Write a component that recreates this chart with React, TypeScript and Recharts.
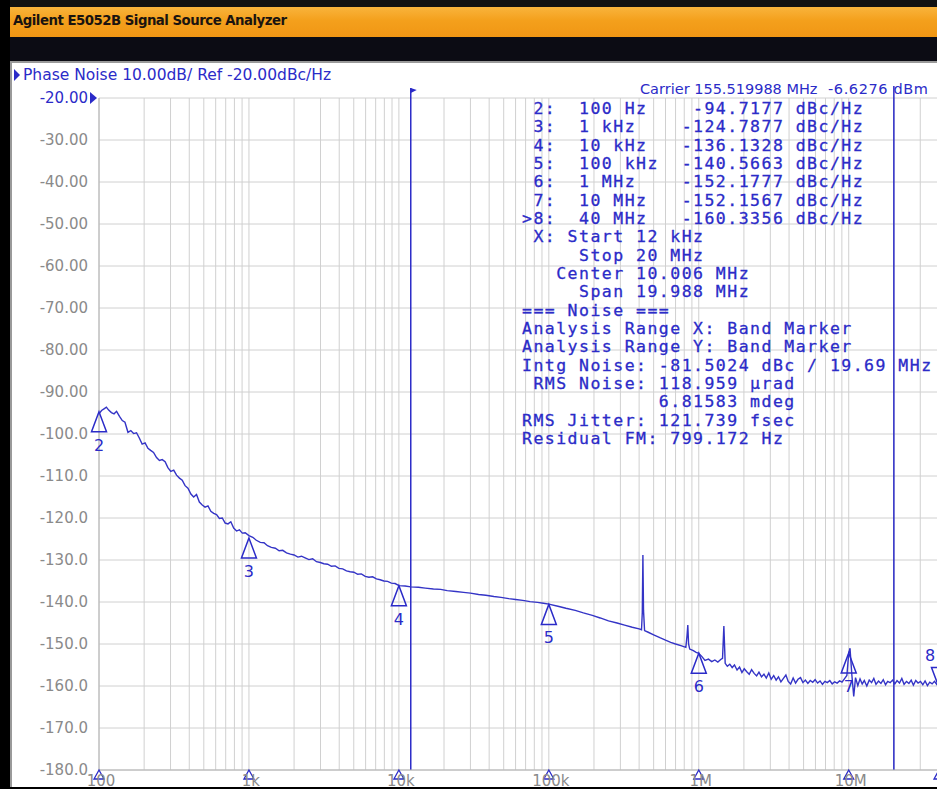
import {
  ComposedChart,
  Line,
  XAxis,
  YAxis,
  CartesianGrid,
  ReferenceLine,
  ReferenceDot,
} from "recharts";

const BLUE = "#2b2bc8";
const TRACE = "#3434c6";
const GRAY_TEXT = "#8a8a8a";
const GRID = "#d0d0d0";

// phase noise trace, one pair of arrays per decade
const dec1Hz = [100, 104, 108, 112, 116, 121, 126, 131, 137, 143, 149, 156, 163, 170, 178, 186, 194, 203, 212, 221, 231, 242, 253, 264, 276, 288, 301, 315, 329, 344, 359, 375, 392, 410, 428, 447, 467, 488, 510, 533, 557, 582, 608, 635, 664, 694, 725, 757, 791, 827, 864, 903, 944];
const dec1Dbc = [-95.2, -94.4, -94.0, -93.6, -94.3, -94.9, -95.2, -94.6, -95.8, -96.8, -97.2, -99.6, -99.2, -99.9, -99.7, -101.0, -102.4, -102.1, -103.4, -103.9, -104.4, -105.6, -106.3, -106.1, -106.6, -108.0, -108.9, -108.6, -109.8, -110.5, -111.0, -112.3, -112.9, -114.3, -115.0, -114.4, -116.2, -116.9, -117.4, -117.1, -118.4, -118.9, -119.2, -120.1, -120.0, -121.2, -121.4, -120.9, -122.4, -123.1, -122.8, -123.6, -123.5];

const dec2Hz = [1000, 1060, 1120, 1190, 1260, 1330, 1410, 1500, 1590, 1680, 1780, 1890, 2000, 2120, 2240, 2370, 2510, 2660, 2820, 2990, 3160, 3350, 3550, 3760, 3980, 4220, 4470, 4730, 5010, 5310, 5620, 5960, 6310, 6680, 7080, 7500, 7940, 8410, 8910, 9440];
const dec2Dbc = [-124.2, -124.6, -125.3, -125.8, -125.9, -126.6, -127.0, -127.2, -127.8, -127.7, -128.3, -128.6, -128.8, -129.3, -129.1, -129.5, -129.9, -129.7, -130.4, -130.6, -130.9, -131.0, -131.5, -131.4, -132.0, -132.1, -132.6, -132.8, -132.9, -133.4, -133.3, -133.9, -134.1, -134.0, -134.5, -134.7, -135.0, -135.1, -135.5, -135.6];

const dec3Hz = [10000, 11000, 12000, 13500, 15000, 17000, 19000, 21000, 24000, 27000, 30000, 34000, 38000, 43000, 48000, 54000, 60000, 67000, 75000, 84000, 92000];
const dec3Dbc = [-136.1, -136.2, -136.4, -136.5, -136.7, -136.9, -137.0, -137.3, -137.5, -137.7, -137.9, -138.2, -138.4, -138.7, -138.9, -139.2, -139.4, -139.6, -139.9, -140.1, -140.3];

const dec4Hz = [100000, 115000, 130000, 150000, 170000, 195000, 220000, 250000, 285000, 320000, 360000, 400000, 415000, 420000, 424000, 428000, 435000, 460000, 500000, 550000, 600000, 650000, 700000, 760000, 820000, 835000, 845000, 855000, 870000, 920000, 960000];
const dec4Dbc = [-140.5, -141.0, -141.5, -142.0, -142.6, -143.2, -143.8, -144.5, -145.0, -145.5, -146.0, -146.4, -146.6, -142.5, -128.8, -142.0, -146.8, -147.2, -147.8, -148.5, -149.1, -149.6, -150.0, -150.4, -150.8, -148.0, -145.5, -150.0, -151.2, -151.6, -152.0];

const dec5Hz = [1000000, 1050000, 1100000, 1160000, 1220000, 1280000, 1340000, 1400000, 1440000, 1470000, 1500000, 1550000, 1610000, 1670000, 1730000, 1800000, 1870000, 1940000, 2010000, 2090000, 2170000, 2250000, 2340000, 2430000, 2520000, 2620000, 2720000, 2820000, 2930000, 3040000, 3160000, 3280000, 3400000, 3530000, 3670000, 3810000, 3950000, 4100000, 4260000, 4420000, 4590000, 4770000, 4950000, 5140000, 5340000, 5540000, 5750000, 5970000, 6200000, 6440000, 6680000, 6940000, 7200000, 7480000, 7760000, 8060000, 8370000, 8690000, 9020000, 9360000, 9720000];
const dec5Dbc = [-152.2, -153.0, -153.9, -153.6, -154.2, -153.8, -154.3, -153.7, -153.4, -145.7, -154.6, -155.3, -154.8, -155.6, -155.0, -156.2, -155.5, -156.8, -155.9, -156.6, -157.2, -156.1, -157.0, -157.6, -156.7, -157.8, -157.2, -158.1, -156.9, -158.4, -157.5, -158.6, -157.8, -159.0, -158.2, -157.4, -158.9, -159.5, -158.1, -159.3, -158.4, -158.0, -159.2, -158.6, -159.4, -158.7, -159.1, -158.5, -159.3, -158.8, -159.6, -158.9, -159.2, -158.7, -159.5, -159.0, -159.3, -158.8, -159.1, -158.3, -157.5];

const dec6Hz = [10000000, 10200000, 10500000, 10800000, 11100000, 11500000, 11900000, 12300000, 12700000, 13200000, 13700000, 14200000, 14700000, 15200000, 15800000, 16400000, 17000000, 17600000, 18200000, 18900000, 19600000, 20300000, 21000000, 21800000, 22600000, 23400000, 24300000, 25200000, 26100000, 27000000, 28000000, 29000000, 30100000, 31200000, 32300000, 33500000, 34700000, 36000000, 37300000, 38600000, 40000000];
const dec6Dbc = [-152.2, -151.0, -157.5, -162.5, -158.0, -159.9, -158.3, -159.5, -158.7, -160.0, -158.6, -159.2, -158.2, -159.6, -158.8, -159.4, -158.5, -159.7, -158.9, -159.2, -158.6, -159.5, -158.7, -159.3, -158.2, -159.6, -158.9, -159.4, -158.6, -159.8, -158.7, -159.3, -158.9, -159.7, -158.8, -159.9, -159.1, -159.5, -158.9, -159.6, -160.3];

// markers 2..8
const markerIds = ["2", "3", "4", "5", "6", "7", "8"];
const markerHz = [100, 1000, 10000, 100000, 1000000, 10000000, 40000000];
const markerDbc = [-94.7177, -124.7877, -136.1328, -140.5663, -152.1777, -152.1567, -160.3356];
const activeMarker = "8";

// band marker (noise analysis range)
const bandStartHz = 12000;
const bandStopHz = 20000000;

const yTicks = [-180, -170, -160, -150, -140, -130, -120, -110, -100, -90, -80, -70, -60, -50, -40, -30, -20];
const decadeHz = [100, 1000, 10000, 100000, 1000000, 10000000];
const decadeLabels = ["100", "1k", "10k", "100k", "1M", "10M"];
const xMax = 40000000;

const readoutLines = [
  " 2:  100 Hz    -94.7177 dBc/Hz",
  " 3:  1 kHz    -124.7877 dBc/Hz",
  " 4:  10 kHz   -136.1328 dBc/Hz",
  " 5:  100 kHz  -140.5663 dBc/Hz",
  " 6:  1 MHz    -152.1777 dBc/Hz",
  " 7:  10 MHz   -152.1567 dBc/Hz",
  ">8:  40 MHz   -160.3356 dBc/Hz",
  " X: Start 12 kHz",
  "     Stop 20 MHz",
  "   Center 10.006 MHz",
  "     Span 19.988 MHz",
  "=== Noise ===",
  "Analysis Range X: Band Marker",
  "Analysis Range Y: Band Marker",
  "Intg Noise: -81.5024 dBc / 19.69 MHz",
  " RMS Noise: 118.959 µrad",
  "            6.81583 mdeg",
  "RMS Jitter: 121.739 fsec",
  "Residual FM: 799.172 Hz",
];

const trace = [
  [dec1Hz, dec1Dbc],
  [dec2Hz, dec2Dbc],
  [dec3Hz, dec3Dbc],
  [dec4Hz, dec4Dbc],
  [dec5Hz, dec5Dbc],
  [dec6Hz, dec6Dbc],
].flatMap(([hz, dbc]) => hz.map((f, i) => ({ f, db: dbc[i] })));

const gridTicks = decadeHz
  .flatMap((d) => [1, 2, 3, 4, 5, 6, 7, 8, 9].map((m) => d * m))
  .filter((f) => f <= xMax);

function YTick({ y, payload }: any) {
  const v = payload.value as number;
  const top = v === -20;
  const label = v > -100 ? v.toFixed(2) : v.toFixed(1);
  return (
    <g>
      <text
        x={88}
        y={y + 5}
        textAnchor="end"
        fill={top ? BLUE : GRAY_TEXT}
        fontSize={15}
        fontFamily="DejaVu Sans"
      >
        {label}
      </text>
      {top && <path d={`M90 ${y - 6} L97 ${y} L90 ${y + 6} Z`} fill={BLUE} />}
    </g>
  );
}

function XTick({ x, payload }: any) {
  const idx = decadeHz.indexOf(payload.value);
  if (idx < 0) return null;
  return (
    <text x={x + 2} y={786} textAnchor="middle" fill={GRAY_TEXT} fontSize={15} fontFamily="DejaVu Sans">
      {decadeLabels[idx]}
    </text>
  );
}

function markerShape(id: string) {
  return ({ cx, cy }: any) => {
    if (id === activeMarker) {
      // active marker sits at the right edge; keep its number inside the frame
      return (
        <g>
          <path d={`M${cx} ${cy} L${cx - 7.5} ${cy - 20} L${cx + 7.5} ${cy - 20} Z`} fill="none" stroke={BLUE} strokeWidth={1.5} />
          <text x={Math.min(cx, 930)} y={cy - 26} textAnchor="middle" fill={BLUE} fontSize={16} fontFamily="DejaVu Sans">
            {id}
          </text>
        </g>
      );
    }
    return (
      <g>
        <path d={`M${cx} ${cy} L${cx - 7.5} ${cy + 20} L${cx + 7.5} ${cy + 20} Z`} fill="none" stroke={BLUE} strokeWidth={1.5} />
        <text x={cx} y={cy + 39} textAnchor="middle" fill={BLUE} fontSize={16} fontFamily="DejaVu Sans">
          {id}
        </text>
      </g>
    );
  };
}

const axisMarkShape = ({ cx, cy }: any) => (
  <path d={`M${cx} ${cy} L${cx - 5} ${cy + 9} L${cx + 5} ${cy + 9} Z`} fill="none" stroke={BLUE} strokeWidth={1.3} />
);

const bandFlagShape = ({ cx, cy }: any) => (
  <g>
    <line x1={cx} y1={cy - 10} x2={cx} y2={cy} stroke={BLUE} strokeWidth={1.5} />
    <path d={`M${cx} ${cy - 10} L${cx + 6} ${cy - 8} L${cx} ${cy - 5} Z`} fill={BLUE} />
  </g>
);

const stopFlagShape = ({ cx, cy }: any) => (
  <line x1={cx} y1={cy - 12} x2={cx} y2={cy} stroke={BLUE} strokeWidth={1.5} />
);

export default function App() {
  return (
    <div
      style={{
        position: "absolute",
        left: 0,
        top: 0,
        width: 937,
        height: 789,
        overflow: "hidden",
        background: "#ffffff",
      }}
    >
      {/* instrument frame */}
      <div style={{ position: "absolute", left: 0, top: 0, width: 937, height: 7, background: "#111" }} />
      <div
        style={{
          position: "absolute",
          left: 10,
          top: 7,
          width: 927,
          height: 30,
          background: "linear-gradient(to bottom, #f9b43c 0%, #f4a01c 45%, #f09614 100%)",
        }}
      >
        <span
          style={{
            position: "absolute",
            left: 3,
            top: 6,
            fontFamily: "DejaVu Sans",
            fontWeight: "bold",
            fontSize: 13.3,
            letterSpacing: -0.5,
            color: "#1a1410",
            whiteSpace: "nowrap",
          }}
        >
          Agilent E5052B Signal Source Analyzer
        </span>
      </div>
      <div style={{ position: "absolute", left: 0, top: 37, width: 937, height: 24, background: "#0c0c14" }} />
      <div style={{ position: "absolute", left: 10, top: 61, width: 927, height: 2, background: "#9a9a9a" }} />
      <div style={{ position: "absolute", left: 10, top: 61, width: 2, height: 728, background: "#9a9a9a" }} />
      <div style={{ position: "absolute", left: 0, top: 0, width: 10, height: 789, background: "#000" }} />
      <div style={{ position: "absolute", left: 0, top: 787, width: 937, height: 2, background: "#000" }} />

      {/* trace header */}
      <svg style={{ position: "absolute", left: 13, top: 68 }} width={8} height={14}>
        <path d="M1 1 L7 7 L1 13 Z" fill={BLUE} />
      </svg>
      <div
        style={{
          position: "absolute",
          left: 23,
          top: 66,
          fontFamily: "DejaVu Sans",
          fontSize: 15.5,
          lineHeight: "18px",
          color: BLUE,
          whiteSpace: "nowrap",
        }}
      >
        Phase Noise 10.00dB/ Ref -20.00dBc/Hz
      </div>

      <div style={{ position: "absolute", left: 0, top: 0 }}>
        <ComposedChart
          width={940}
          height={789}
          data={trace}
          margin={{ top: 98, right: 1, bottom: 0, left: 10 }}
        >
          <CartesianGrid stroke={GRID} />
          <XAxis
            dataKey="f"
            type="number"
            scale="log"
            domain={[100, xMax]}
            allowDataOverflow
            ticks={gridTicks}
            interval={0}
            height={19}
            tickLine={false}
            axisLine={{ stroke: "#b4b4b4" }}
            tick={<XTick />}
          />
          <YAxis
            dataKey="db"
            type="number"
            domain={[-180, -20]}
            ticks={yTicks}
            interval={0}
            width={89}
            tickLine={false}
            axisLine={{ stroke: "#b4b4b4" }}
            tick={<YTick />}
          />
          <ReferenceLine x={bandStartHz} stroke={BLUE} strokeWidth={1.5} />
          <ReferenceLine x={bandStopHz} stroke={BLUE} strokeWidth={1.5} />
          <ReferenceDot x={bandStartHz} y={-20} ifOverflow="visible" shape={bandFlagShape} />
          <ReferenceDot x={bandStopHz} y={-20} ifOverflow="visible" shape={stopFlagShape} />
          <Line
            dataKey="db"
            stroke={TRACE}
            strokeWidth={1.4}
            dot={false}
            isAnimationActive={false}
          />
          {markerIds.map((id, i) => (
            <ReferenceDot
              key={`m${id}`}
              x={markerHz[i]}
              y={markerDbc[i]}
              ifOverflow="visible"
              shape={markerShape(id)}
            />
          ))}
          {markerIds.map((id, i) => (
            <ReferenceDot
              key={`a${id}`}
              x={markerHz[i]}
              y={-180}
              ifOverflow="visible"
              shape={axisMarkShape}
            />
          ))}
        </ComposedChart>
      </div>

      {/* carrier readout */}
      <div
        style={{
          position: "absolute",
          left: 640,
          top: 80,
          fontFamily: "DejaVu Sans",
          fontSize: 14.5,
          lineHeight: "18px",
          color: BLUE,
          whiteSpace: "nowrap",
        }}
      >
        Carrier 155.519988 MHz
      </div>
      <div
        style={{
          position: "absolute",
          left: 828,
          top: 80,
          fontFamily: "DejaVu Sans",
          fontSize: 14.5,
          letterSpacing: 0.6,
          lineHeight: "18px",
          color: BLUE,
          whiteSpace: "nowrap",
        }}
      >
        -6.6276 dBm
      </div>

      {/* marker / noise readout */}
      <div
        style={{
          position: "absolute",
          left: 522,
          top: 100,
          fontFamily: "DejaVu Sans Mono",
          fontSize: 16.5,
          letterSpacing: 1.47,
          lineHeight: "18.33px",
          color: BLUE,
          WebkitTextStroke: `0.3px ${BLUE}`,
          whiteSpace: "pre",
        }}
      >
        {readoutLines.join("\n")}
      </div>
    </div>
  );
}
